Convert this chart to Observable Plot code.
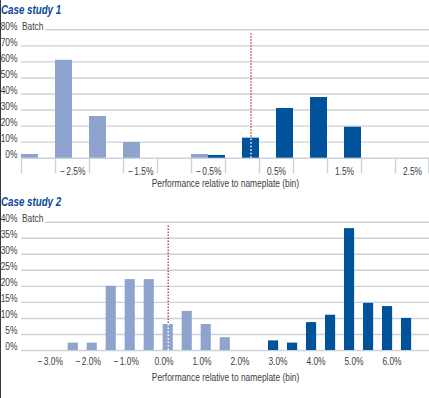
<!DOCTYPE html>
<html>
<head>
<meta charset="utf-8">
<script src="https://cdn.jsdelivr.net/npm/d3@7"></script>
<script src="https://cdn.jsdelivr.net/npm/@observablehq/plot@0.6"></script>
<style>
  html, body { margin: 0; padding: 0; background: #fff; }
  body { width: 429px; height: 398px; position: relative; overflow: hidden; }
  .edge { position: absolute; left: 0; top: 0; width: 1px; height: 398px; background: #3a3a3a; z-index: 5; }
  .title { position: absolute; left: 1px; font-family: "Liberation Sans", Arial, sans-serif;
           font-weight: bold; font-style: italic; font-size: 12.5px; color: #0b4a99; line-height: 14px;
           transform: scaleX(0.78); transform-origin: 0 0; white-space: nowrap; }
  .chart { position: absolute; left: 0; }
</style>
</head>
<body>
<div class="edge"></div>
<div class="title" id="t1" style="top:3px"></div>
<div id="c1" class="chart" style="top:18px"></div>
<div class="title" id="t2" style="top:195px"></div>
<div id="c2" class="chart" style="top:208px"></div>
<script>
// ---------- Data ----------
const titles = ["Case study 1", "Case study 2"];
const axisTitle = "Performance relative to nameplate (bin)";
const yLabel = "Batch";

// Case study 1
const bins1 = ["-3.0","-2.5","-2.0","-1.5","-1.0","-0.5","0.0","0.5","1.0","1.5","2.0","2.5"];
const before1 = [2.3, 61, 26, 9.8, 0, 2.3, 0, 0, 0, 0, 0, 0];      // light series
const after1  = [0, 0, 0, 0, 0, 1.7, 12.5, 31, 37.8, 19.3, 0, 0];  // dark series
const xTicks1 = ["-2.5","-1.5","-0.5","0.5","1.5","2.5"];
const yTicks1 = [0,10,20,30,40,50,60,70,80];
const nameplateBin1 = "0.0";
const nameplateTop1 = 77.5;

// Case study 2
const bins2 = ["-3.0","-2.5","-2.0","-1.5","-1.0","-0.5","0.0","0.5","1.0","1.5",
               "2.0","2.5","3.0","3.5","4.0","4.5","5.0","5.5","6.0","6.5"];
const before2 = [0, 2.3, 2.3, 20, 22.1, 22.1, 8.1, 12.2, 8.1, 4, 0, 0, 0, 0, 0, 0, 0, 0, 0, 0];
const after2  = [0, 0, 0, 0, 0, 0, 0, 0, 0, 0, 0, 0, 3, 2.3, 8.7, 11, 38, 14.7, 13.7, 10];
const xTicks2 = ["-3.0","-2.0","-1.0","0.0","1.0","2.0","3.0","4.0","5.0","6.0"];
const yTicks2 = [0,5,10,15,20,25,30,35,40];
const nameplateBin2 = "0.0";
const nameplateTop2 = 39.2;

// ---------- Style ----------
const FONT = '"Liberation Sans", Arial, sans-serif';
const LIGHT = "#8fa3cf";
const DARK = "#00529b";
const GRID = "#cbd2d9";
const RED = "#c0504d";
const TXT = "#3d3d3d";
const SQUEEZE = 0.8;
const pct = d => d + "%";
const binFmt = d => (d.startsWith("-") ? "\u2212\u2009" + d.slice(1) : d) + "%";

document.getElementById("t1").textContent = titles[0];
document.getElementById("t2").textContent = titles[1];

function rows(bins, vals) {
  return bins.map((b, i) => ({bin: b, v: vals[i]})).filter(d => d.v > 0);
}

// narrow the text horizontally around its anchor point (condensed look)
function condense(svg) {
  svg.querySelectorAll("text").forEach(el => {
    const t = el.getAttribute("transform");
    if (t) {
      el.setAttribute("transform", t + ` scale(${SQUEEZE},1)`);
    } else {
      const x = +(el.getAttribute("x") || 0), y = +(el.getAttribute("y") || 0);
      el.setAttribute("x", 0); el.setAttribute("y", 0);
      el.setAttribute("transform", `translate(${x},${y}) scale(${SQUEEZE},1)`);
    }
  });
  return svg;
}

// ---------- Chart 1 ----------
{
  const W = 429, ml = 20.7, mr = 0;
  const bw = (W - ml - mr) / bins1.length;
  const topVal = yTicks1[yTicks1.length - 1];
  const npVal = after1[bins1.indexOf(nameplateBin1)];
  const chart = Plot.plot({
    width: W, height: 180,
    marginLeft: ml, marginRight: mr, marginTop: 11.3, marginBottom: 40.3,
    style: {fontFamily: FONT, fontSize: "10.5px", color: TXT, background: "white"},
    x: {type: "band", domain: bins1, padding: 0, axis: null},
    y: {domain: [0, topVal], axis: null},
    marks: [
      Plot.ruleY(yTicks1.filter(d => d < topVal), {stroke: GRID, strokeWidth: 1.4}),
      Plot.ruleY([topVal], {stroke: GRID, strokeWidth: 1.4, insetLeft: 24.3}),
      Plot.ruleX(bins1, {x: d => d, y1: 0, y2: -9.7, dx: -bw / 2, stroke: GRID, strokeWidth: 1.4}),
      Plot.ruleX([bins1[bins1.length - 1]], {x: d => d, y1: 0, y2: -9.7, dx: bw / 2 - 0.7, stroke: GRID, strokeWidth: 1.4}),
      Plot.ruleX([nameplateBin1], {x: d => d, y1: 0, y2: nameplateTop1, dx: bw / 4, stroke: RED, strokeWidth: 1.5, strokeDasharray: "1.5,1.5"}),
      Plot.barY(rows(bins1, before1), {x: "bin", y: "v", fill: LIGHT, insetRight: bw / 2}),
      Plot.barY(rows(bins1, after1), {x: "bin", y: "v", fill: DARK, insetLeft: bw / 2}),
      Plot.ruleX([nameplateBin1], {x: d => d, y1: 0, y2: npVal, dx: bw / 4, stroke: "white", strokeWidth: 1.5, strokeDasharray: "1.5,2"}),
      Plot.axisY({ticks: yTicks1, tickSize: 0, tickPadding: 3.7, tickFormat: pct, dy: -3.5, label: null, fill: TXT}),
      Plot.text([topVal], {y: d => d, text: () => yLabel, frameAnchor: "left", textAnchor: "start", dx: 0.8, dy: -3.5, fill: TXT}),
      Plot.axisX(xTicks1, {tickSize: 0, tickPadding: 9.5, tickFormat: binFmt, label: null, fill: TXT}),
      Plot.text([axisTitle], {frameAnchor: "bottom", dy: 28.5, fill: TXT})
    ]
  });
  document.getElementById("c1").appendChild(condense(chart));
}

// ---------- Chart 2 ----------
{
  const W = 429, ml = 21, mr = 0;
  const x0 = 31.6, x1 = 429;
  const bw = (x1 - x0) / bins2.length;
  const barW = 11;
  const topVal = yTicks2[yTicks2.length - 1];
  const npVal = before2[bins2.indexOf(nameplateBin2)];
  const lightInset = bw - barW;
  const npDx = bw / 2 - barW / 2 - 0.2;
  const chart = Plot.plot({
    width: W, height: 190,
    marginLeft: ml, marginRight: mr, marginTop: 13.7, marginBottom: 48,
    style: {fontFamily: FONT, fontSize: "10.5px", color: TXT, background: "white"},
    x: {type: "band", domain: bins2, padding: 0, range: [x0, x1], axis: null},
    y: {domain: [0, topVal], axis: null},
    marks: [
      Plot.ruleY(yTicks2.filter(d => d < topVal), {stroke: GRID, strokeWidth: 1.4}),
      Plot.ruleY([topVal], {stroke: GRID, strokeWidth: 1.4, insetLeft: 24}),
      Plot.ruleX([nameplateBin2], {x: d => d, y1: 0, y2: nameplateTop2, dx: npDx, stroke: RED, strokeWidth: 1.5, strokeDasharray: "1.5,1.5"}),
      Plot.barY(rows(bins2, before2), {x: "bin", y: "v", fill: LIGHT, insetLeft: lightInset - 0.2, insetRight: 0.2}),
      Plot.barY(rows(bins2, after2), {x: "bin", y: "v", fill: DARK, insetRight: bw - barW}),
      Plot.ruleX([nameplateBin2], {x: d => d, y1: 0, y2: npVal, dx: npDx, stroke: "white", strokeWidth: 1.5, strokeDasharray: "1.5,2"}),
      Plot.axisY({ticks: yTicks2, tickSize: 0, tickPadding: 4, tickFormat: pct, dy: -3.5, label: null, fill: TXT}),
      Plot.text([topVal], {y: d => d, text: () => yLabel, frameAnchor: "left", textAnchor: "start", dx: 0.5, dy: -3.5, fill: TXT}),
      Plot.axisX(xTicks2, {tickSize: 0, tickPadding: 7.5, tickFormat: binFmt, label: null, fill: TXT}),
      Plot.text([axisTitle], {frameAnchor: "bottom", dy: 30, fill: TXT})
    ]
  });
  document.getElementById("c2").appendChild(condense(chart));
}
</script>
</body>
</html>
